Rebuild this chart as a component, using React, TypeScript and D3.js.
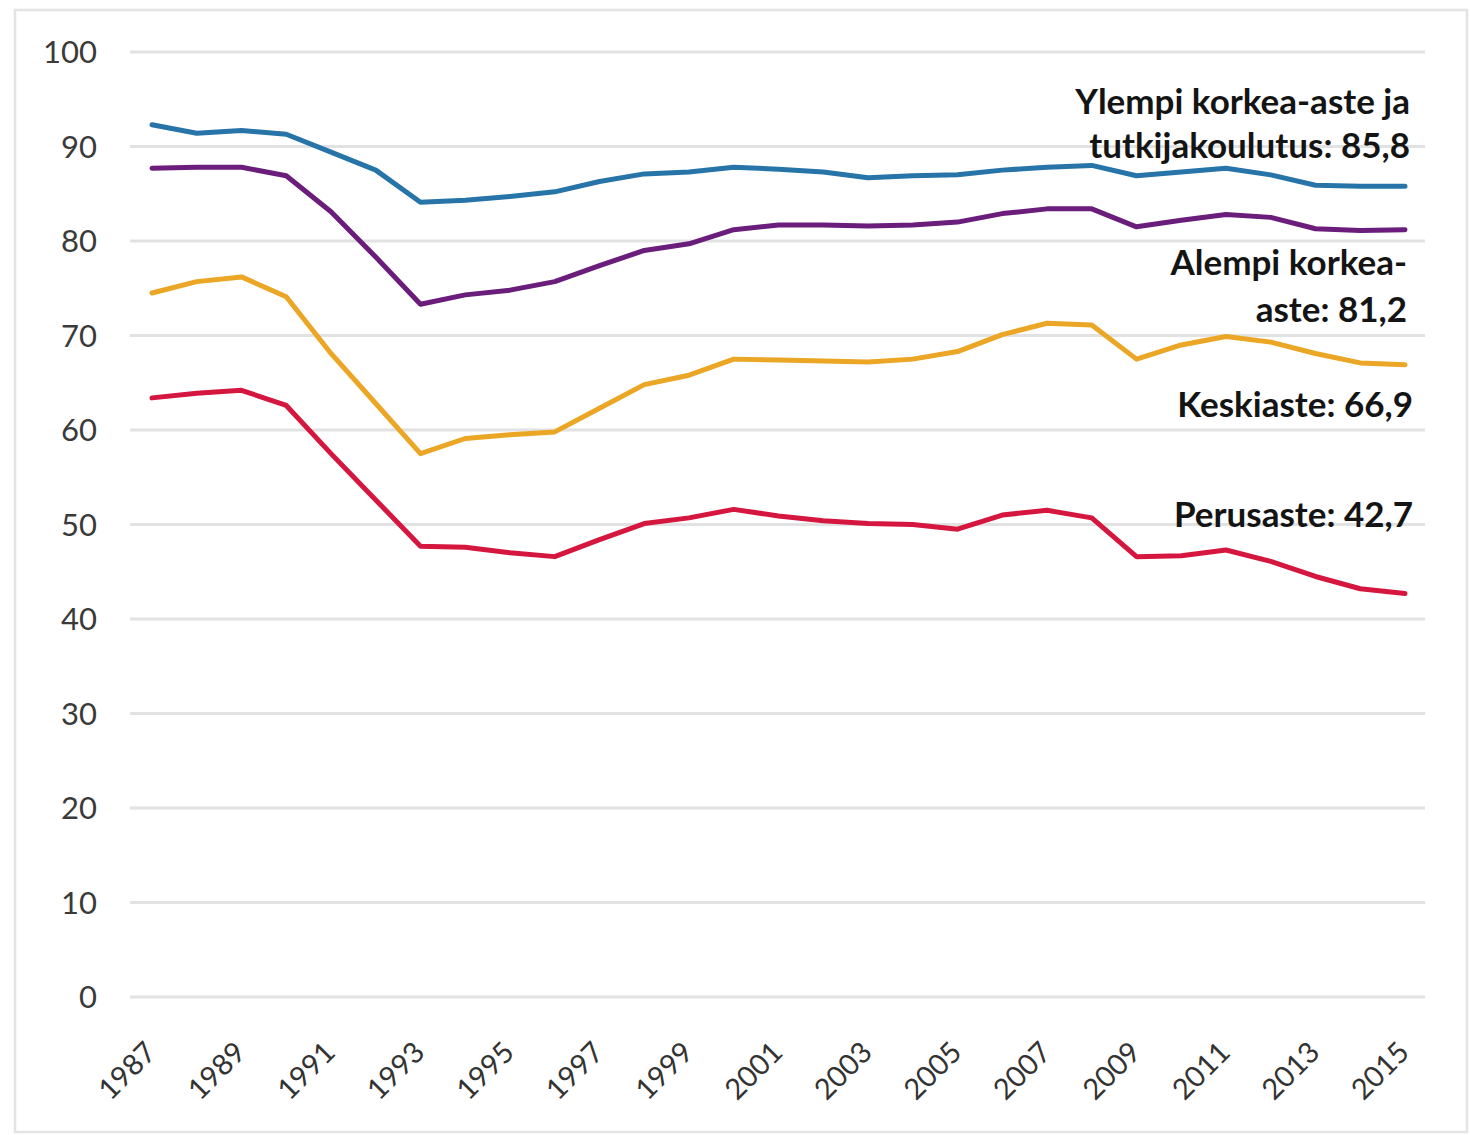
import React, { useEffect, useRef } from 'react';
import * as d3 from 'd3';

const years = d3.range(1987, 2016);

const ylempi = [
  92.3, 91.4, 91.7, 91.3, 89.4, 87.5, 84.1, 84.3, 84.7, 85.2, 86.3, 87.1, 87.3, 87.8, 87.6,
  87.3, 86.7, 86.9, 87.0, 87.5, 87.8, 88.0, 86.9, 87.3, 87.7, 87.0, 85.9, 85.8, 85.8,
];
const alempi = [
  87.7, 87.8, 87.8, 86.9, 83.1, 78.3, 73.3, 74.3, 74.8, 75.7, 77.4, 79.0, 79.7, 81.2, 81.7,
  81.7, 81.6, 81.7, 82.0, 82.9, 83.4, 83.4, 81.5, 82.2, 82.8, 82.5, 81.3, 81.1, 81.2,
];
const keskiaste = [
  74.5, 75.7, 76.2, 74.1, 68.1, 62.8, 57.5, 59.1, 59.5, 59.8, 62.3, 64.8, 65.8, 67.5, 67.4,
  67.3, 67.2, 67.5, 68.3, 70.1, 71.3, 71.1, 67.5, 69.0, 69.9, 69.3, 68.1, 67.1, 66.9,
];
const perusaste = [
  63.4, 63.9, 64.2, 62.6, 57.5, 52.6, 47.7, 47.6, 47.0, 46.6, 48.4, 50.1, 50.7, 51.6, 50.9,
  50.4, 50.1, 50.0, 49.5, 51.0, 51.5, 50.7, 46.6, 46.7, 47.3, 46.1, 44.5, 43.2, 42.7,
];

const seriesNames = ['ylempi', 'alempi', 'keskiaste', 'perusaste'];
const seriesValues = [ylempi, alempi, keskiaste, perusaste];
const seriesColors = ['#2774a8', '#6a1d7b', '#eaa624', '#d5173f'];

const yTicks = d3.range(0, 101, 10);
const xTickYears = d3.range(1987, 2016, 2);

// end labels, one array of lines per series
const labelLines = [
  ['Ylempi korkea-aste ja', 'tutkijakoulutus: 85,8'],
  ['Alempi korkea-', 'aste: 81,2'],
  ['Keskiaste: 66,9'],
  ['Perusaste: 42,7'],
];
const labelBaselines = [
  [114, 158],
  [275, 322],
  [417],
  [527],
];
const labelRight = [1410, 1407, 1413, 1413];

const W = 1470;
const H = 1135;

const App = () => {
  const svgRef = useRef(null);

  useEffect(() => {
    const svg = d3.select(svgRef.current);
    svg.selectAll('*').remove();

    const x = d3.scaleLinear().domain([1987, 2015]).range([152, 1405]);
    const y = d3.scaleLinear().domain([0, 100]).range([997, 52]);

    // frame
    svg
      .append('rect')
      .attr('x', 15)
      .attr('y', 10)
      .attr('width', 1452)
      .attr('height', 1122)
      .attr('fill', '#fff')
      .attr('stroke', '#e4e4e4')
      .attr('stroke-width', 2.5);

    // gridlines
    svg
      .append('g')
      .selectAll('line')
      .data(yTicks)
      .enter()
      .append('line')
      .attr('x1', 130)
      .attr('x2', 1425)
      .attr('y1', (d) => y(d))
      .attr('y2', (d) => y(d))
      .attr('stroke', '#e2e2e2')
      .attr('stroke-width', 3);

    // y labels
    svg
      .append('g')
      .selectAll('text')
      .data(yTicks)
      .enter()
      .append('text')
      .attr('x', 97)
      .attr('y', (d) => y(d))
      .attr('dy', '0.36em')
      .attr('text-anchor', 'end')
      .attr('font-family', 'Lato, sans-serif')
      .attr('font-size', 31)
      .attr('fill', '#3a3a3a')
      .text((d) => d);

    // x labels
    svg
      .append('g')
      .selectAll('text')
      .data(xTickYears)
      .enter()
      .append('text')
      .attr('transform', (d) => `translate(${x(d) + 6},1054) rotate(-45)`)
      .attr('text-anchor', 'end')
      .attr('font-family', 'Lato, sans-serif')
      .attr('font-size', 29)
      .attr('fill', '#333')
      .text((d) => d);

    // lines
    const line = d3
      .line()
      .x((d, i) => x(years[i]))
      .y((d) => y(d));

    svg
      .append('g')
      .selectAll('path')
      .data(seriesValues)
      .enter()
      .append('path')
      .attr('class', (d, i) => seriesNames[i])
      .attr('d', (d) => line(d))
      .attr('fill', 'none')
      .attr('stroke', (d, i) => seriesColors[i])
      .attr('stroke-width', 5)
      .attr('stroke-linejoin', 'round')
      .attr('stroke-linecap', 'round');

    // series labels
    labelLines.forEach((lines, i) => {
      lines.forEach((t, j) => {
        svg
          .append('text')
          .attr('x', labelRight[i])
          .attr('y', labelBaselines[i][j])
          .attr('text-anchor', 'end')
          .attr('font-family', 'Lato, sans-serif')
          .attr('font-weight', 'bold')
          .attr('font-size', 35)
          .attr('fill', '#141414')
          .text(t);
      });
    });

    return () => {
      svg.selectAll('*').remove();
    };
  }, []);

  return (
    <div style={{ position: 'absolute', left: 0, top: 0 }}>
      <svg ref={svgRef} width={W} height={H} style={{ display: 'block' }}></svg>
    </div>
  );
};

export default App;
